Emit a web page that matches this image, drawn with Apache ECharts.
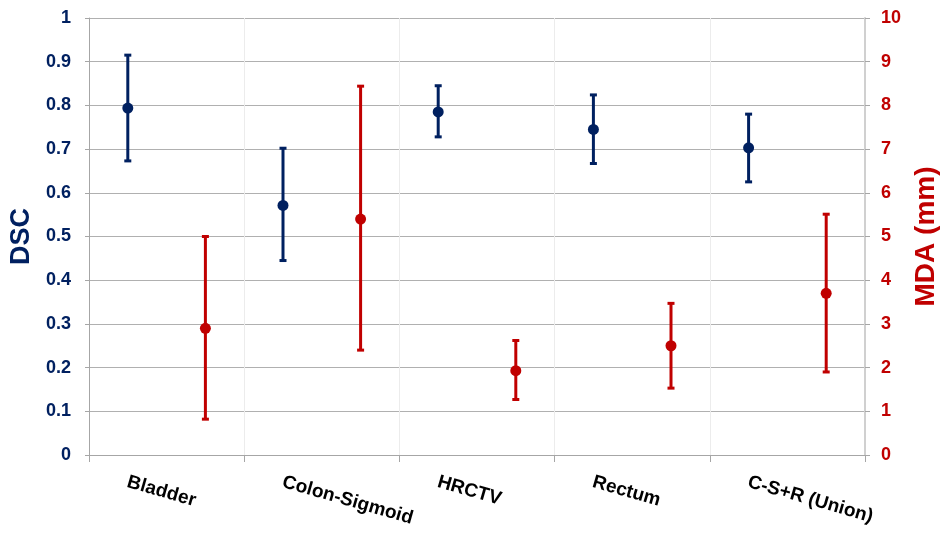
<!DOCTYPE html>
<html><head><meta charset="utf-8">
<script src="https://cdn.jsdelivr.net/npm/echarts@6/dist/echarts.min.js"></script>
<style>html,body{margin:0;padding:0;background:#fff}#c{width:942px;height:534px}</style>
</head><body><div id="c"></div>
<script>
var categories = ['Bladder', 'Colon-Sigmoid', 'HRCTV', 'Rectum', 'C-S+R (Union)'];
var dscMean = [0.794, 0.571, 0.785, 0.745, 0.703];
var dscLow  = [0.673, 0.445, 0.728, 0.667, 0.625];
var dscHigh = [0.915, 0.702, 0.845, 0.824, 0.780];
var mdaMean = [2.90, 5.40, 1.93, 2.50, 3.70];
var mdaLow  = [0.82, 2.40, 1.27, 1.53, 1.90];
var mdaHigh = [5.00, 8.44, 2.62, 3.47, 5.51];
var dscTicks = [0, 0.1, 0.2, 0.3, 0.4, 0.5, 0.6, 0.7, 0.8, 0.9, 1];
var mdaTicks = [0, 1, 2, 3, 4, 5, 6, 7, 8, 9, 10];

var NAVY = '#002060', RED = '#C00000';
var FONT = '"Liberation Sans", Arial, sans-serif';

function build(mean, low, high) {
  return categories.map(function (c, i) { return [i, mean[i], low[i], high[i]]; });
}
function renderer(color, frac) {
  return function (params, api) {
    var i = api.value(0);
    var bw = api.size([1, 0])[0];
    var c = api.coord([i, api.value(1)]);
    var lo = api.coord([i, api.value(2)]);
    var hi = api.coord([i, api.value(3)]);
    var x = c[0] + frac * bw;
    var cw = 3.5;
    return {
      type: 'group',
      children: [
        { type: 'line', shape: { x1: x, y1: lo[1], x2: x, y2: hi[1] }, style: { stroke: color, lineWidth: 3 } },
        { type: 'line', shape: { x1: x - cw, y1: lo[1], x2: x + cw, y2: lo[1] }, style: { stroke: color, lineWidth: 3 } },
        { type: 'line', shape: { x1: x - cw, y1: hi[1], x2: x + cw, y2: hi[1] }, style: { stroke: color, lineWidth: 3 } },
        { type: 'circle', shape: { cx: x, cy: c[1], r: 5.5 }, style: { fill: color } }
      ]
    };
  };
}

var chart = echarts.init(document.getElementById('c'), null, { renderer: 'canvas' });
chart.setOption({
  animation: false,
  backgroundColor: '#fff',
  grid: { left: 89, right: 77, top: 18, bottom: 79, containLabel: false, outerBoundsMode: 'none' },
  xAxis: {
    type: 'category',
    data: categories,
    boundaryGap: true,
    axisLine: { show: true, lineStyle: { color: '#a6a6a6', width: 1 } },
    axisTick: { show: true, alignWithLabel: false, length: 7, lineStyle: { color: '#a6a6a6' } },
    splitLine: { show: true, lineStyle: { color: '#ececec', width: 1 } },
    axisLabel: {
      interval: 0, rotate: -16, margin: 28,
      align: 'left', verticalAlign: 'top',
      padding: [0, 0, 0, -38],
      color: '#000', fontWeight: 'bold', fontSize: 19, fontFamily: FONT
    }
  },
  yAxis: [
    {
      type: 'value', min: dscTicks[0], max: dscTicks[dscTicks.length - 1], interval: 0.1,
      position: 'left',
      name: 'DSC', nameLocation: 'middle', nameRotate: 90, nameGap: 47,
      nameTextStyle: { color: NAVY, fontWeight: 'bold', fontSize: 27, fontFamily: FONT },
      axisLine: { show: true, lineStyle: { color: '#a6a6a6' } },
      axisTick: { show: true, length: 4, lineStyle: { color: '#a6a6a6' } },
      splitLine: { show: true, lineStyle: { color: '#b0b0b0', width: 1 } },
      axisLabel: {
        color: NAVY, fontWeight: 'bold', fontSize: 18, fontFamily: FONT, margin: 18,
        formatter: function (v) { return String(Math.round(v * 10) / 10); }
      }
    },
    {
      type: 'value', min: mdaTicks[0], max: mdaTicks[mdaTicks.length - 1], interval: 1,
      position: 'right',
      name: 'MDA (mm)', nameLocation: 'middle', nameRotate: 90, nameGap: 47,
      nameTextStyle: { color: RED, fontWeight: 'bold', fontSize: 28, fontFamily: FONT },
      axisLine: { show: true, lineStyle: { color: '#d0d0d0', width: 2 } },
      axisTick: { show: true, length: 5, lineStyle: { color: '#a6a6a6' } },
      splitLine: { show: false },
      axisLabel: { color: RED, fontWeight: 'bold', fontSize: 18, fontFamily: FONT, margin: 16 }
    }
  ],
  series: [
    {
      type: 'custom', name: 'DSC', xAxisIndex: 0, yAxisIndex: 0,
      renderItem: renderer(NAVY, -0.25),
      encode: { x: 0, y: [1, 2, 3] },
      data: build(dscMean, dscLow, dscHigh), z: 3
    },
    {
      type: 'custom', name: 'MDA', xAxisIndex: 0, yAxisIndex: 1,
      renderItem: renderer(RED, 0.25),
      encode: { x: 0, y: [1, 2, 3] },
      data: build(mdaMean, mdaLow, mdaHigh), z: 3
    }
  ]
});
</script></body></html>
